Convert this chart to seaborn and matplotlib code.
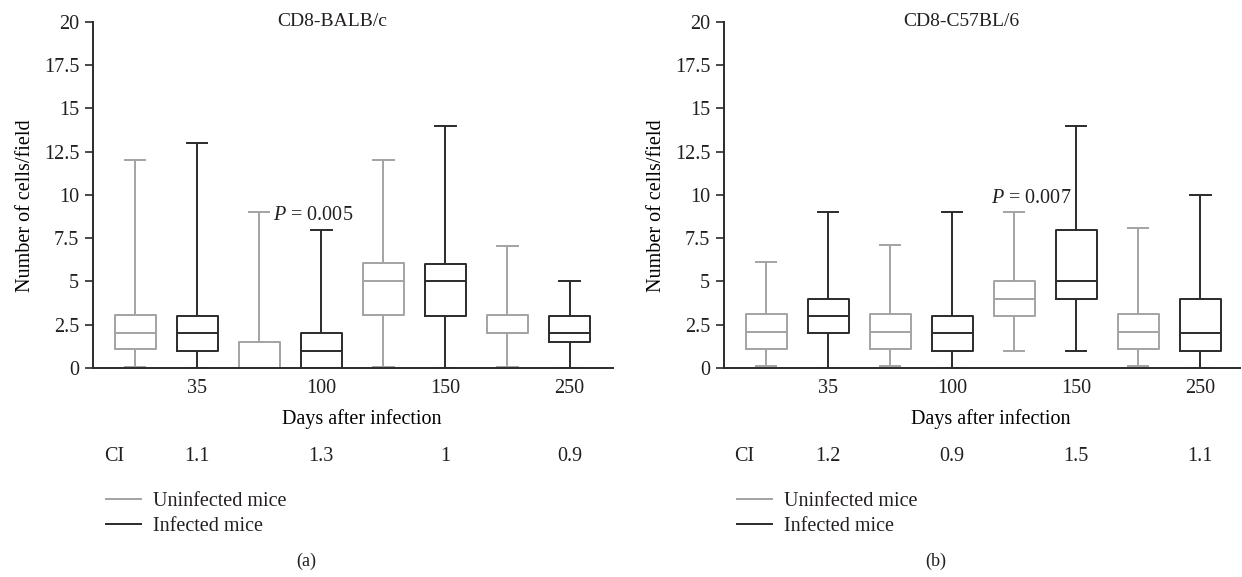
import numpy as np
import pandas as pd
import matplotlib
matplotlib.use("Agg")
import matplotlib.pyplot as plt
import matplotlib.transforms as mtransforms
from matplotlib.lines import Line2D
import seaborn as sns

# ---------------- data ----------------
days = ["35", "100", "150", "250"]
groups = ["Uninfected mice", "Infected mice"]

# five-number summaries per box: [min, q1, median, q3, max]
balb_uninf = [[0.05, 1.1, 2.05, 3.05, 12.05],
              [0.0, 0.0, 0.0, 1.5, 9.0],
              [0.05, 3.05, 5.05, 6.05, 12.05],
              [0.05, 2.05, 2.05, 3.05, 7.05]]
balb_inf = [[0.0, 1.0, 2.0, 3.0, 13.0],
            [0.0, 0.0, 1.0, 2.0, 8.0],
            [0.0, 3.0, 5.0, 6.0, 14.0],
            [0.0, 1.5, 2.0, 3.0, 5.0]]
c57_uninf = [[0.1, 1.1, 2.1, 3.1, 6.1],
             [0.1, 1.1, 2.1, 3.1, 7.1],
             [1.0, 3.0, 4.0, 5.0, 9.0],
             [0.1, 1.1, 2.1, 3.1, 8.1]]
c57_inf = [[0.0, 2.0, 3.0, 4.0, 9.0],
           [0.0, 1.0, 2.0, 3.0, 9.0],
           [1.0, 4.0, 5.0, 8.0, 14.0],
           [0.0, 1.0, 2.0, 4.0, 10.0]]

balb_ci = ["1.1", "1.3", "1", "0.9"]
c57_ci = ["1.2", "0.9", "1.5", "1.1"]

yticks = [0, 2.5, 5, 7.5, 10, 12.5, 15, 17.5, 20]
ytick_labels = ["0", "2.5", "5", "7.5", "10", "12.5", "15", "17.5", "20"]

panels = [
    dict(title="CD8-BALB/c", uninf=balb_uninf, inf=balb_inf, ci=balb_ci,
         ptext="$P$ = 0.005", px=0.86, py=8.8, tag="(a)"),
    dict(title="CD8-C57BL/6", uninf=c57_uninf, inf=c57_inf, ci=c57_ci,
         ptext="$P$ = 0.007", px=1.565, py=9.8, tag="(b)"),
]

GRAY = "#a3a3a3"
DARK = "#2b2b2b"
TXT = "#231f20"

plt.rcParams["font.family"] = ["Liberation Serif", "DejaVu Serif"]
plt.rcParams["mathtext.fontset"] = "custom"
plt.rcParams["mathtext.rm"] = "Liberation Serif"
plt.rcParams["mathtext.it"] = "Liberation Serif:italic"
plt.rcParams["text.color"] = TXT

W, H = 1242, 577
fig = plt.figure(figsize=(W / 100, H / 100), dpi=100)

axes_px = [(93, 520), (724, 516)]
top_px, bot_px = 22, 368
FS = 14.5

for (x0, w), p in zip(axes_px, panels):
    ax = fig.add_axes([x0 / W, (H - bot_px) / H, w / W, (bot_px - top_px) / H])
    rows = []
    for gname, series in ((groups[0], p["uninf"]), (groups[1], p["inf"])):
        for d, vals in zip(days, series):
            for v in vals:
                rows.append((d, gname, v))
    df = pd.DataFrame(rows, columns=["day", "group", "value"])
    sns.boxplot(data=df, x="day", y="value", hue="group", order=days,
                hue_order=groups, palette={groups[0]: GRAY, groups[1]: DARK},
                fill=False, whis=(0, 100), width=1.0, gap=0.34,
                linewidth=1.4, legend=False, ax=ax)
    ax.set_xlim(-0.589, 3.57 if x0 > 600 else 3.6)
    ax.set_ylim(0, 20)
    sns.despine(ax=ax)
    for s in ("left", "bottom"):
        ax.spines[s].set_color(DARK)
        ax.spines[s].set_linewidth(1.4)
    ax.set_yticks(yticks)
    ax.set_yticklabels(ytick_labels)
    ax.set_xticks([i + 0.25 for i in range(len(days))])
    ax.set_xticklabels(days)
    ax.tick_params(axis="x", length=0, pad=8, labelsize=FS, colors=TXT)
    ax.tick_params(axis="y", length=6, width=1.2, pad=4, labelsize=FS,
                   colors=DARK, labelcolor=TXT)
    ax.set_xlabel("Days after infection", fontsize=FS)
    ax.xaxis.set_label_coords(0.517, -0.118)
    ax.set_ylabel("Number of cells/field", fontsize=FS)
    ax.yaxis.set_label_coords(-0.112, 0.47)
    ax.text(0.46, 1.0, p["title"], transform=ax.transAxes,
            ha="center", va="center", fontsize=FS - 0.5)
    ax.text(p["px"], p["py"], p["ptext"], ha="left", va="center", fontsize=FS)
    trans = mtransforms.blended_transform_factory(ax.transData, ax.transAxes)
    ax.text(0.04, -0.256, "CI", transform=ax.transAxes, ha="center",
            va="center", fontsize=FS)
    for i, c in enumerate(p["ci"]):
        ax.text(i + 0.25, -0.256, c, transform=trans, ha="center",
                va="center", fontsize=FS)
    handles = [Line2D([], [], color=GRAY, lw=1.4),
               Line2D([], [], color=DARK, lw=1.4)]
    ax.legend(handles, groups, loc="upper left", bbox_to_anchor=(0.025, -0.357),
              frameon=False, fontsize=FS, handlelength=1.75, handletextpad=0.6,
              labelspacing=0.3, borderaxespad=0, borderpad=0)
    ax.text(0.41, -0.56, p["tag"], transform=ax.transAxes, ha="center",
            va="center", fontsize=FS - 1.5)

fig.savefig("out.png", dpi=100)
